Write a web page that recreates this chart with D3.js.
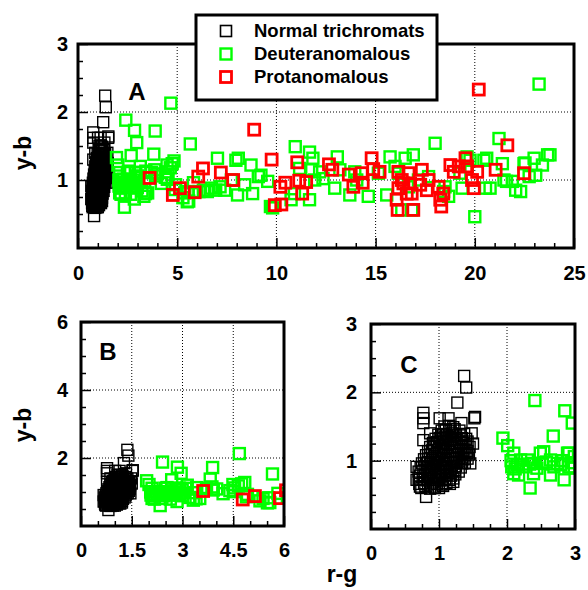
<!DOCTYPE html>
<html><head><meta charset="utf-8">
<script src="https://cdn.jsdelivr.net/npm/d3@7"></script>
<style>
html,body{margin:0;padding:0;background:#fff;}
svg text{font-family:Arial,"Liberation Sans",sans-serif;font-weight:bold;fill:#000;}
</style></head>
<body>
<svg id="chart" width="588" height="590"></svg>
<script>
// ---------- data ----------
const seriesNames = ["Normal trichromats", "Deuteranomalous", "Protanomalous"];
const seriesColors = ["#000000", "#00ff00", "#ff0000"];

const normal = [
[1.37,2.24],[1.40,2.07],[1.27,1.85],[1.53,1.64],[1.52,1.62],[0.77,1.70],[0.77,1.62],[0.77,1.55],[1.01,1.62],[1.14,1.62],[1.33,1.55],[1.48,1.40],[1.50,1.25],[0.81,0.47],[0.67,0.91],[0.67,0.72],[0.72,0.62],[0.94,0.60],[1.21,0.69],[0.77,1.30],[0.87,1.40],[1.41,1.11],[1.46,0.96],
[0.74,0.60],[0.80,0.61],[0.87,0.59],[0.93,0.62],[1.00,0.60],[1.06,0.63],
[0.71,0.66],[0.78,0.67],[0.84,0.65],[0.91,0.68],[0.97,0.66],[1.04,0.65],[1.11,0.67],[1.16,0.66],
[0.70,0.72],[0.76,0.73],[0.83,0.71],[0.89,0.74],[0.96,0.72],[1.02,0.71],[1.09,0.73],[1.15,0.72],[1.21,0.74],
[0.72,0.78],[0.79,0.79],[0.85,0.77],[0.92,0.80],[0.98,0.78],[1.05,0.77],[1.11,0.79],[1.18,0.78],[1.24,0.80],
[0.70,0.84],[0.77,0.85],[0.83,0.83],[0.90,0.86],[0.96,0.84],[1.03,0.83],[1.10,0.85],[1.16,0.84],[1.23,0.86],[1.29,0.84],
[0.73,0.90],[0.80,0.91],[0.86,0.89],[0.93,0.92],[0.99,0.90],[1.06,0.89],[1.12,0.91],[1.19,0.90],[1.25,0.92],[1.32,0.90],
[0.75,0.96],[0.82,0.97],[0.88,0.95],[0.95,0.98],[1.01,0.96],[1.08,0.95],[1.14,0.97],[1.21,0.96],[1.27,0.98],[1.34,0.96],[1.38,0.97],
[0.78,1.02],[0.84,1.03],[0.91,1.01],[0.97,1.04],[1.04,1.02],[1.10,1.01],[1.17,1.03],[1.23,1.02],[1.30,1.04],[1.36,1.02],[1.42,1.03],
[0.81,1.08],[0.87,1.09],[0.94,1.07],[1.00,1.10],[1.07,1.08],[1.13,1.07],[1.20,1.09],[1.26,1.08],[1.33,1.10],[1.39,1.08],[1.44,1.09],
[0.84,1.14],[0.90,1.15],[0.97,1.13],[1.03,1.16],[1.10,1.14],[1.16,1.13],[1.23,1.15],[1.29,1.14],[1.36,1.16],[1.42,1.14],
[0.87,1.20],[0.93,1.21],[1.00,1.19],[1.06,1.22],[1.13,1.20],[1.19,1.19],[1.26,1.21],[1.32,1.20],[1.39,1.22],[1.45,1.20],
[0.91,1.26],[0.97,1.27],[1.04,1.25],[1.10,1.28],[1.17,1.26],[1.23,1.25],[1.30,1.27],[1.36,1.26],[1.42,1.28],
[0.95,1.32],[1.01,1.33],[1.08,1.31],[1.14,1.34],[1.21,1.32],[1.27,1.31],[1.34,1.33],[1.40,1.32],
[0.99,1.38],[1.06,1.39],[1.12,1.37],[1.19,1.40],[1.25,1.38],[1.32,1.37],[1.37,1.39],
[1.04,1.44],[1.10,1.45],[1.17,1.43],[1.23,1.46],[1.30,1.44],
[1.08,1.50],[1.15,1.51],[1.21,1.49]
];

const deuteranomalous = [
[1.94,1.33],[2.01,1.22],[2.10,1.11],[2.15,0.94],[2.20,1.01],[2.30,1.01],[2.39,0.96],[2.49,1.11],[2.52,0.96],[2.64,1.01],[2.74,0.96],[2.89,1.11],[2.99,1.06],[2.99,0.89],[2.10,0.81],[2.17,0.79],[2.34,0.60],[2.39,0.81],[2.64,0.79],[2.84,0.72],[2.91,0.91],[2.25,0.91],[2.69,0.91],[2.79,0.94],[2.44,0.89],[2.07,0.91],[2.41,1.88],[2.85,1.73],[2.96,1.55],[2.68,1.36],[2.54,1.13],[2.91,1.11],[2.06,1.00],[2.12,0.88],[2.33,0.95],[2.58,0.98],[2.82,1.00],[2.95,0.97],
[3.12,1.11],[3.22,0.84],[3.32,0.76],[3.42,1.13],[3.51,0.81],[3.71,1.11],[3.89,1.72],[3.91,1.06],[4.01,1.09],[4.40,1.04],[4.50,1.01],[4.65,1.18],[4.68,2.13],[4.84,1.28],[4.89,0.86],[5.29,0.74],[5.38,0.81],[5.58,0.69],[5.66,1.53],[5.82,0.96],[3.82,1.38],[3.14,1.20],[4.49,1.22],[4.75,1.24],[3.40,0.80],[4.92,0.93],[4.20,0.95],[3.36,0.98],[3.87,1.15],[4.54,1.12],[5.55,0.83],[5.51,0.68],
[6.10,0.83],[6.32,0.85],[6.52,0.83],[6.72,0.88],[6.94,0.85],[7.03,1.32],[7.16,0.90],[7.39,0.85],[7.73,1.00],[7.96,1.29],[8.04,0.78],[8.08,1.32],[8.40,0.93],[8.72,1.22],[8.80,0.80],[9.09,1.05],[9.22,1.07],[9.56,0.98],[9.70,0.61],[9.81,0.59],[10.74,0.71],[10.91,0.80],[10.95,1.49],[11.17,1.17],[11.67,1.41],[11.84,1.32],[11.93,1.00],[11.67,0.71],[11.78,1.15],[12.18,1.12],[12.35,1.02],[12.94,0.88],[13.07,1.34],[13.20,1.15],[13.70,0.78],[13.95,1.12],[14.05,1.00],[14.63,0.76],[15.14,1.10],[15.56,0.78],[15.73,1.34],[15.98,1.20],[16.15,1.10],[16.49,1.32],[16.66,0.90],[16.32,0.56],[16.82,0.56],[16.90,1.37],[17.16,1.00],[17.67,1.05],[18.00,1.54],[18.43,0.83],[18.50,0.90],[18.68,0.76],[19.25,1.10],[19.36,0.88],[19.61,1.34],[19.76,1.29],[20.00,0.46],[20.46,1.29],[20.54,0.88],[20.60,1.32],[20.77,0.88],[21.22,1.61],[21.39,1.24],[21.47,1.00],[21.60,0.98],[21.89,0.98],[22.06,0.85],[22.31,0.83],[22.48,1.24],[22.53,1.25],[22.74,1.05],[22.99,1.32],[23.07,1.07],[23.24,2.41],[23.41,1.22],[23.67,1.37],[23.79,1.37]
];

const protanomalous = [
[3.61,1.03],[4.78,0.78],[5.14,0.88],[5.88,0.82],[6.06,1.05],[6.30,1.17],[7.20,1.11],[7.82,1.00],[8.88,1.74],[9.76,1.30],[9.92,0.63],[10.25,0.64],[10.20,0.90],[10.45,0.96],[11.05,1.26],[11.15,0.99],[11.30,0.80],[11.50,0.97],[12.65,1.23],[12.82,1.15],[13.65,1.08],[13.88,0.90],[14.30,1.10],[14.35,0.96],[14.80,1.32],[14.88,1.16],[15.20,1.12],[16.15,1.12],[16.32,1.00],[16.15,0.88],[16.06,0.71],[16.11,0.56],[16.40,0.95],[16.66,1.10],[16.74,0.95],[16.82,0.80],[16.90,0.56],[17.33,1.15],[17.25,0.93],[17.58,0.85],[17.67,1.00],[16.57,0.80],[18.18,0.90],[18.26,0.71],[18.31,0.61],[18.41,0.80],[18.77,1.22],[18.94,1.12],[19.19,1.20],[19.53,1.32],[19.61,1.20],[19.86,1.00],[19.95,0.88],[20.12,1.12],[20.20,2.33],[21.05,1.15],[21.64,1.51],[22.48,1.10]
];

const series = [normal, deuteranomalous, protanomalous];

// tick labels per panel
const panelLabels = ["A", "B", "C"];
const xTicksA = [0, 5, 10, 15, 20, 25];
const yTicksA = [1, 2, 3];
const xTicksB = [0, 1.5, 3, 4.5, 6];
const yTicksB = [2, 4, 6];
const xTicksC = [0, 1, 2, 3];
const yTicksC = [1, 2, 3];
const xTitle = "r-g";
const yTitle = "y-b";

// ---------- layout ----------
const panels = [
  {id:"A", x0:78, x1:574, y0:44, y1:248, xd:[0,25], yd:[0,3], xt:xTicksA, yt:yTicksA,
   xMinor:1, yMinor:0.25, xGrid:[5,10,15,20], yGrid:[1,2], xPad:18, yPad:10, lab:[137,100]},
  {id:"B", x0:81, x1:284, y0:322, y1:526, xd:[0,6], yd:[0,6], xt:xTicksB, yt:yTicksB,
   xMinor:0.5, yMinor:0.5, xGrid:[1.5,3,4.5], yGrid:[2,4], xPad:17, yPad:13, lab:[108,360]},
  {id:"C", x0:371, x1:575, y0:324, y1:529, xd:[0,3], yd:[0,3], xt:xTicksC, yt:yTicksC,
   xMinor:0.25, yMinor:0.25, xGrid:[1,2], yGrid:[1,2], xPad:17, yPad:14, lab:[409,373]}
];

const svg = d3.select("#chart");
const side = 11;
const strokeW = [1.4, 2.4, 2.8];

panels.forEach((p, pi) => {
  const x = d3.scaleLinear().domain(p.xd).range([p.x0, p.x1]);
  const y = d3.scaleLinear().domain(p.yd).range([p.y1, p.y0]);
  const g = svg.append("g");

  const cid = "clip" + p.id;
  svg.append("clipPath").attr("id", cid).append("rect")
    .attr("x", p.x0).attr("y", p.y0).attr("width", p.x1 - p.x0).attr("height", p.y1 - p.y0);

  // grid
  g.selectAll(".gx").data(p.xGrid).join("line")
    .attr("x1", d => x(d)).attr("x2", d => x(d)).attr("y1", p.y0).attr("y2", p.y1)
    .attr("stroke", "#000").attr("stroke-width", 1).attr("stroke-dasharray", "1,2");
  g.selectAll(".gy").data(p.yGrid).join("line")
    .attr("y1", d => y(d)).attr("y2", d => y(d)).attr("x1", p.x0).attr("x2", p.x1)
    .attr("stroke", "#000").attr("stroke-width", 1).attr("stroke-dasharray", "1,2");

  // points
  const pg = g.append("g").attr("clip-path", `url(#${cid})`);
  series.forEach((s, si) => {
    pg.append("g").selectAll("rect").data(s).join("rect")
      .attr("x", d => x(d[0]) - side/2).attr("y", d => y(d[1]) - side/2)
      .attr("width", side).attr("height", side)
      .attr("fill", "none").attr("stroke", seriesColors[si]).attr("stroke-width", strokeW[si]);
  });

  // ticks
  const xMinorVals = d3.range(p.xd[0], p.xd[1] + 1e-9, p.xMinor).filter(v => !p.xt.some(t => Math.abs(t - v) < 1e-9));
  const yMinorVals = d3.range(p.yd[0], p.yd[1] + 1e-9, p.yMinor).filter(v => !p.yt.some(t => Math.abs(t - v) < 1e-9) && v > 0);
  const axB1 = g.append("g").attr("transform", `translate(0,${p.y1})`)
    .call(d3.axisBottom(x).tickValues(xMinorVals).tickSize(-5).tickFormat(""));
  const axL1 = g.append("g").attr("transform", `translate(${p.x0},0)`)
    .call(d3.axisLeft(y).tickValues(yMinorVals).tickSize(-5).tickFormat(""));
  const axB2 = g.append("g").attr("transform", `translate(0,${p.y1})`)
    .call(d3.axisBottom(x).tickValues(p.xt).tickSize(-10).tickPadding(p.xPad).tickFormat(d3.format("")));
  const axL2 = g.append("g").attr("transform", `translate(${p.x0},0)`)
    .call(d3.axisLeft(y).tickValues(p.yt).tickSize(-10).tickPadding(p.yPad).tickFormat(d3.format("")));
  [axB1, axL1, axB2, axL2].forEach(a => {
    a.select(".domain").remove();
    a.selectAll("line").attr("stroke", "#000").attr("stroke-width", 1.5);
    a.selectAll("text").attr("font-size", 20).attr("font-weight", "bold")
      .attr("font-family", "Arial, 'Liberation Sans', sans-serif").attr("fill", "#000");
  });

  // frame
  g.append("rect").attr("x", p.x0).attr("y", p.y0).attr("width", p.x1 - p.x0).attr("height", p.y1 - p.y0)
    .attr("fill", "none").attr("stroke", "#000").attr("stroke-width", 3);

  g.append("text").attr("x", p.lab[0]).attr("y", p.lab[1]).attr("text-anchor", "middle")
    .attr("font-size", 24).text(panelLabels[pi]);
});

// axis titles
svg.append("text").attr("transform", "translate(31,153) rotate(-90)").attr("text-anchor", "middle")
  .attr("font-size", 23).text(yTitle);
svg.append("text").attr("transform", "translate(31,425) rotate(-90)").attr("text-anchor", "middle")
  .attr("font-size", 23).text(yTitle);
svg.append("text").attr("x", 342).attr("y", 582).attr("text-anchor", "middle")
  .attr("font-size", 23).text(xTitle);

// legend
const lg = svg.append("g");
lg.append("rect").attr("x", 196).attr("y", 15).attr("width", 241).attr("height", 85)
  .attr("fill", "#fff").attr("stroke", "#000").attr("stroke-width", 3);
const rowsY = [31, 54, 77];
seriesNames.forEach((n, i) => {
  lg.append("rect").attr("x", 226 - side/2).attr("y", rowsY[i] - side/2).attr("width", side).attr("height", side)
    .attr("fill", "none").attr("stroke", seriesColors[i]).attr("stroke-width", i === 0 ? 1.6 : strokeW[i]);
  lg.append("text").attr("x", 254).attr("y", rowsY[i]).attr("dy", "0.35em").attr("font-size", 18.5).text(n);
});
</script>
</body></html>
